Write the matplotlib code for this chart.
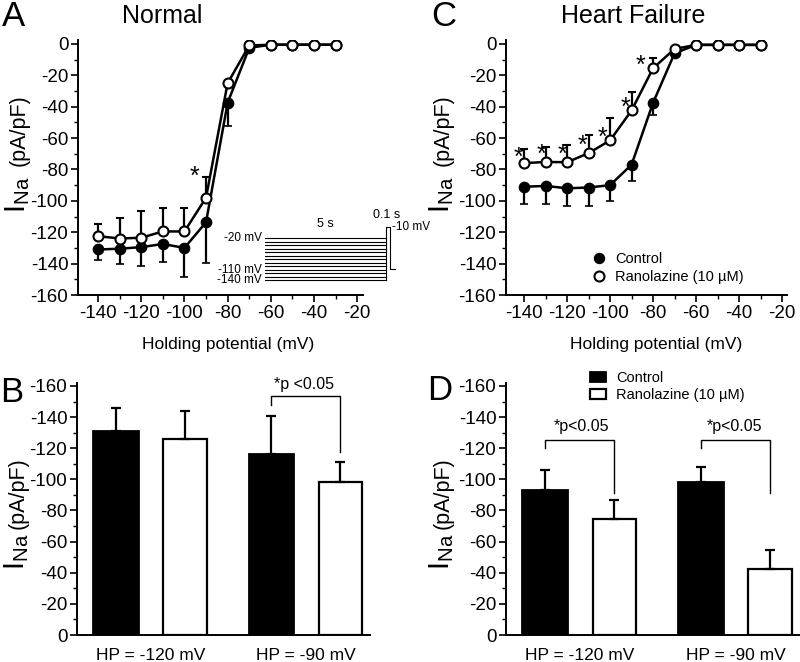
import numpy as np
import matplotlib
matplotlib.use('Agg')
import matplotlib.pyplot as plt
from matplotlib.lines import Line2D

plt.rcParams['font.family'] = ['Liberation Sans', 'DejaVu Sans']
plt.rcParams['axes.unicode_minus'] = False

# ---- data ----
hp = [-140, -130, -120, -110, -100, -90, -80, -70, -60, -50, -40, -30]

# A: Normal
norm_ctrl = [-131, -130.5, -129.5, -127.5, -130, -113.6, -37.5, -2.5, -0.5, -0.5, -0.5, -0.5]
norm_ctrl_sem = [7, 9.5, 12, 11.5, 18.5, 26, 15, 0.5, 0.3, 0.3, 0.3, 0.3]
norm_rano = [-122.5, -124, -123.5, -119.5, -119.5, -98, -25, -1, -0.5, -0.5, -0.5, -0.5]
norm_rano_sem = [8, 13, 17, 15, 15, 13.5, 1, 0.3, 0.3, 0.3, 0.3, 0.3]

# C: Heart failure
hf_ctrl = [-91, -90.5, -92, -91.5, -90, -77, -37.5, -6, -0.6, -0.6, -0.6, -0.6]
hf_ctrl_sem = [11.3, 11.2, 11.5, 11.5, 9.8, 10.2, 7.5, 1, 0.3, 0.3, 0.3, 0.3]
hf_rano = [-76, -75.2, -75.4, -69.6, -61.5, -42.4, -15.5, -3.2, -0.6, -0.6, -0.6, -0.6]
hf_rano_sem = [9, 9.5, 10.7, 11.6, 14.3, 11.5, 6.8, 0.5, 0.3, 0.3, 0.3, 0.3]

# B / D bar summaries
groups = ['HP = -120 mV', 'HP = -90 mV']
b_ctrl = [-131, -116]
b_ctrl_sem = [15, 24.5]
b_rano = [-126, -98]
b_rano_sem = [18, 13]
d_ctrl = [-93, -98]
d_ctrl_sem = [13, 10]
d_rano = [-74.5, -42.5]
d_rano_sem = [12.5, 12]

# inset protocol
hold_mv = [-20, -30, -40, -50, -60, -70, -80, -90, -100, -110, -120, -130, -140]

W, H = 800, 662
fig = plt.figure(figsize=(8, 6.62), dpi=100)


def rect(x0, y0, x1, y1):
    return [x0 / W, 1 - y1 / H, (x1 - x0) / W, (y1 - y0) / H]


def style(ax):
    for s in ['top', 'right']:
        ax.spines[s].set_visible(False)
    for s in ['left', 'bottom']:
        ax.spines[s].set_linewidth(1.4)
    ax.tick_params(which='major', direction='out', length=5, width=1.2, labelsize=13.5, pad=2)
    ax.tick_params(which='minor', direction='out', length=3, width=1.0)
    ax.set_yticks(np.arange(-160, 1, 20))
    ax.set_yticks(np.arange(-160, 1, 10), minor=True)


def ylabel(x, ybot, ytop):
    fig.text(x / W, 1 - ybot / H, r'$\mathregular{I_{Na}}$', fontsize=21, rotation=90,
             rotation_mode='anchor', ha='left', va='baseline')
    fig.text(x / W, 1 - ytop / H, '(pA/pF)', fontsize=15.5, rotation=90,
             rotation_mode='anchor', ha='right', va='baseline')


def iv_panel(ax, ctrl, ctrl_sem, rano, rano_sem):
    style(ax)
    ax.errorbar(hp, ctrl, yerr=[ctrl_sem, np.zeros(len(hp))], color='k', lw=1.8,
                marker='o', ms=7.2, mfc='k', mec='k', mew=1.2, capsize=3, elinewidth=1.6, capthick=1.6, zorder=2)
    ax.errorbar(hp, rano, yerr=[np.zeros(len(hp)), rano_sem], color='k', lw=1.8,
                marker='o', ms=7.2, mfc='w', mec='k', mew=1.5, capsize=3, elinewidth=1.6, capthick=1.6, zorder=3)
    ax.set_ylim(-160, 2.5)
    ax.set_xticks([-140, -120, -100, -80, -60, -40, -20])
    ax.set_xticks(np.arange(-140, -19, 10), minor=True)
    ax.set_xlabel('Holding potential (mV)', fontsize=12.5)


def bar_panel(ax, ctrl, ctrl_sem, rano, rano_sem):
    style(ax)
    pos_c = [0, 2.25]
    pos_r = [1, 3.25]
    bc = ax.bar(pos_c, ctrl, width=0.66, color='k', edgecolor='k', lw=1.3, label='Control')
    br = ax.bar(pos_r, rano, width=0.63, color='w', edgecolor='k', lw=1.6, label='Ranolazine (10 µM)')
    ax.errorbar(pos_c, ctrl, yerr=[ctrl_sem, [0, 0]], fmt='none', ecolor='k', elinewidth=1.6, capsize=3.5, capthick=1.6)
    ax.errorbar(pos_r, rano, yerr=[rano_sem, [0, 0]], fmt='none', ecolor='k', elinewidth=1.6, capsize=3.5, capthick=1.6)
    ax.set_xlim(-0.565, 3.68)
    ax.set_ylim(0, -161.9)
    ax.set_xticks([0.5, 2.75])
    ax.set_xticklabels(groups, fontsize=12.5)
    ax.tick_params(axis='x', length=0, pad=9)
    return bc, br


def bracket(ax, x1, x2, y_left, y_top, y_right, label, tx, ty):
    ax.plot([x1, x1, x2, x2], [y_left, y_top, y_top, y_right], color='k', lw=1.0, clip_on=False)
    ax.text(tx, ty, label, fontsize=11.5, ha='center', va='center', clip_on=False)


# ---- Panel A ----
axA = fig.add_axes(rect(78, 40, 363, 295))
iv_panel(axA, norm_ctrl, norm_ctrl_sem, norm_rano, norm_rano_sem)
axA.set_xlim(-149.3, -17.3)
axA.xaxis.set_label_coords(0.525, -0.165)
axA.text(-95.5, -85, '*', fontsize=18, ha='center', va='center')
fig.text(162 / W, 1 - 16 / H, 'Normal', fontsize=18, ha='center', va='center')
fig.text(13 / W, 1 - 16 / H, 'A', fontsize=25, ha='center', va='center')
ylabel(25, 213, 94)

# protocol inset
axI = fig.add_axes(rect(265, 222, 396, 283))
axI.axis('off')
axI.set_xlim(0, 5.42)
axI.set_ylim(-147.8, 26.9)
for v in hold_mv:
    axI.plot([0, 5], [v, v], color='k', lw=0.8)
axI.plot([5, 5, 5.18, 5.18, 5.38], [-140, 12.6, 12.6, -108.3, -108.3], color='k', lw=0.8)
for v in [-20, -110, -140]:
    axI.text(-0.12, v, '%d mV' % v, fontsize=8.5, ha='right', va='center')
axI.text(2.5, 22, '5 s', fontsize=9, ha='center', va='center')
axI.text(5.05, 46, '0.1 s', fontsize=9, ha='center', va='center', clip_on=False)
axI.text(5.25, 13, '-10 mV', fontsize=8.5, ha='left', va='center', clip_on=False)

# ---- Panel C ----
axC = fig.add_axes(rect(506, 40, 787, 295))
iv_panel(axC, hf_ctrl, hf_ctrl_sem, hf_rano, hf_rano_sem)
axC.set_xlim(-148.4, -17.7)
axC.xaxis.set_label_coords(0.534, -0.165)
star_x = [-142.5, -132, -122, -113, -103.5, -92.8, -86]
star_y = [-72.5, -71, -70.5, -65, -60, -41, -14]
for sx, sy in zip(star_x, star_y):
    axC.text(sx, sy, '*', fontsize=18, ha='center', va='center')
fig.text(633 / W, 1 - 16 / H, 'Heart Failure', fontsize=18, ha='center', va='center')
fig.text(444 / W, 1 - 16 / H, 'C', fontsize=25, ha='center', va='center')
ylabel(449, 213, 94)
hC = [Line2D([], [], ls='none', marker='o', ms=7.2, mfc='k', mec='k'),
      Line2D([], [], ls='none', marker='o', ms=7.2, mfc='w', mec='k', mew=1.5)]
fig.legend(hC, ['Control', 'Ranolazine (10 µM)'], loc='upper left',
           bbox_to_anchor=(584 / W, 1 - 245 / H), frameon=False, fontsize=10.5,
           borderpad=0, handlelength=1.0, handletextpad=0.65, labelspacing=0.25)

# ---- Panel B ----
axB = fig.add_axes(rect(77, 383, 370, 635))
bar_panel(axB, b_ctrl, b_ctrl_sem, b_rano, b_rano_sem)
bracket(axB, 2.25, 3.25, -148, -153.5, -117.5, '*p <0.05', 2.72, -161)
fig.text(12 / W, 1 - 393 / H, 'B', fontsize=25, ha='center', va='center')
ylabel(24, 570, 457)

# ---- Panel D ----
axD = fig.add_axes(rect(506, 383, 800, 635))
bc, br = bar_panel(axD, d_ctrl, d_ctrl_sem, d_rano, d_rano_sem)
bracket(axD, 0, 1, -120, -125.5, -91, '*p<0.05', 0.53, -134)
bracket(axD, 2.25, 3.25, -120, -125.5, -91, '*p<0.05', 2.73, -134)
fig.text(440 / W, 1 - 390 / H, 'D', fontsize=25, ha='center', va='center')
ylabel(449, 570, 457)
fig.legend([bc, br], ['Control', 'Ranolazine (10 µM)'], loc='upper left',
           bbox_to_anchor=(583 / W, 1 - 364 / H), frameon=False, fontsize=10.5,
           borderpad=0, handlelength=1.1, handleheight=0.65, handletextpad=0.65, labelspacing=0.2)

fig.savefig('out.png', dpi=100)
